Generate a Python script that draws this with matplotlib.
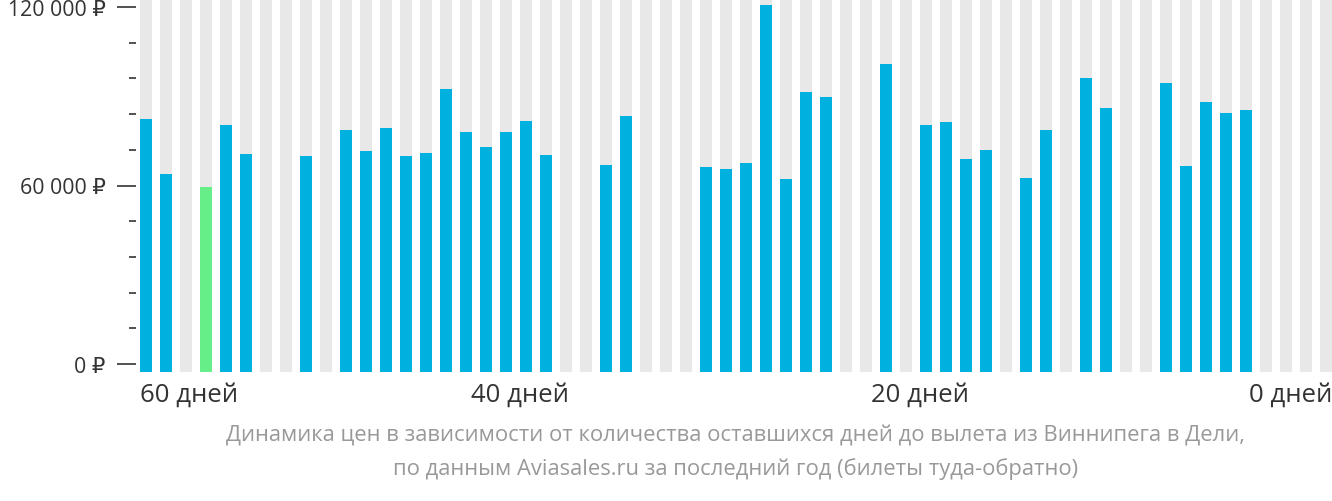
import matplotlib
matplotlib.use("Agg")
import matplotlib.pyplot as plt
import numpy as np

plt.rcParams["font.family"] = ["Open Sans", "DejaVu Sans"]

# price per slot (index 0 = 60 days before departure), None = no data
prices = [82300, 63900, None, 59500, 80300, 70600, None, None, 69900, None,
          78700, 71600, 79300, 69900, 70900, 92400, 78000, 72900, 78000, 81700,
          70300, None, None, 66900, 83400, None, None, None, 66200, 65600,
          67600, 120700, 62200, 91400, 89800, None, None, 100800, None, 80300,
          81300, 68900, 71900, None, 62500, 78700, None, 96100, 86100, None,
          None, 94500, 66600, 88100, 84400, 85400, None, None, None, None]
cheapest_idx = 3
x_labels = ["60 дней", "40 дней", "20 дней", "0 дней"]
x_label_pos = [-0.3, 18.7, 38.7, 59.3]
y_major = [0, 60000, 120000]
y_major_labels = ["0 ₽", "60 000 ₽", "120 000 ₽"]
caption = ("Динамика цен в зависимости от количества оставшихся дней до вылета из Виннипега в Дели,\n"
           "по данным Aviasales.ru за последний год (билеты туда-обратно)")

W, H = 1332, 502
fig = plt.figure(figsize=(W / 100, H / 100), dpi=100)
ax = fig.add_axes([136 / W, (H - 365) / H, 1200 / W, 357 / H])

n = len(prices)
idx = np.arange(n)
base = -2600
ax.bar(idx, [126000] * n, bottom=base, width=0.6, color="#e8e8e8", zorder=1,
       clip_on=False)
for i, p in enumerate(prices):
    if p is None:
        continue
    c = "#66ee88" if i == cheapest_idx else "#00b0de"
    ax.bar(i, p - base, bottom=base, width=0.6, color=c, zorder=2, clip_on=False)

ax.set_xlim(-0.5, n - 0.5)
ax.set_ylim(0, 120000)
for s in ax.spines.values():
    s.set_visible(False)
ax.set_xticks([])
ax.set_yticks(y_major)
ax.set_yticklabels(y_major_labels, fontsize=15.3, color="#333333")
ax.set_yticks(np.arange(0, 120001, 12000), minor=True)
ax.tick_params(axis="y", which="major", length=14, width=1.2, color="#333333", pad=8)
ax.tick_params(axis="y", which="minor", length=5, width=1.2, color="#333333")

aligns = ["left", "center", "center", "right"]
for lab, pos, ha in zip(x_labels, x_label_pos, aligns):
    ax.text(pos, -6000, lab, ha=ha, va="top", fontsize=18.5, color="#333333",
            clip_on=False)

fig.text(736 / W, 1 - 426 / H, caption, ha="center", va="top", fontsize=15.8,
         color="#999999", linespacing=1.65)

fig.savefig("out.png", dpi=100)
